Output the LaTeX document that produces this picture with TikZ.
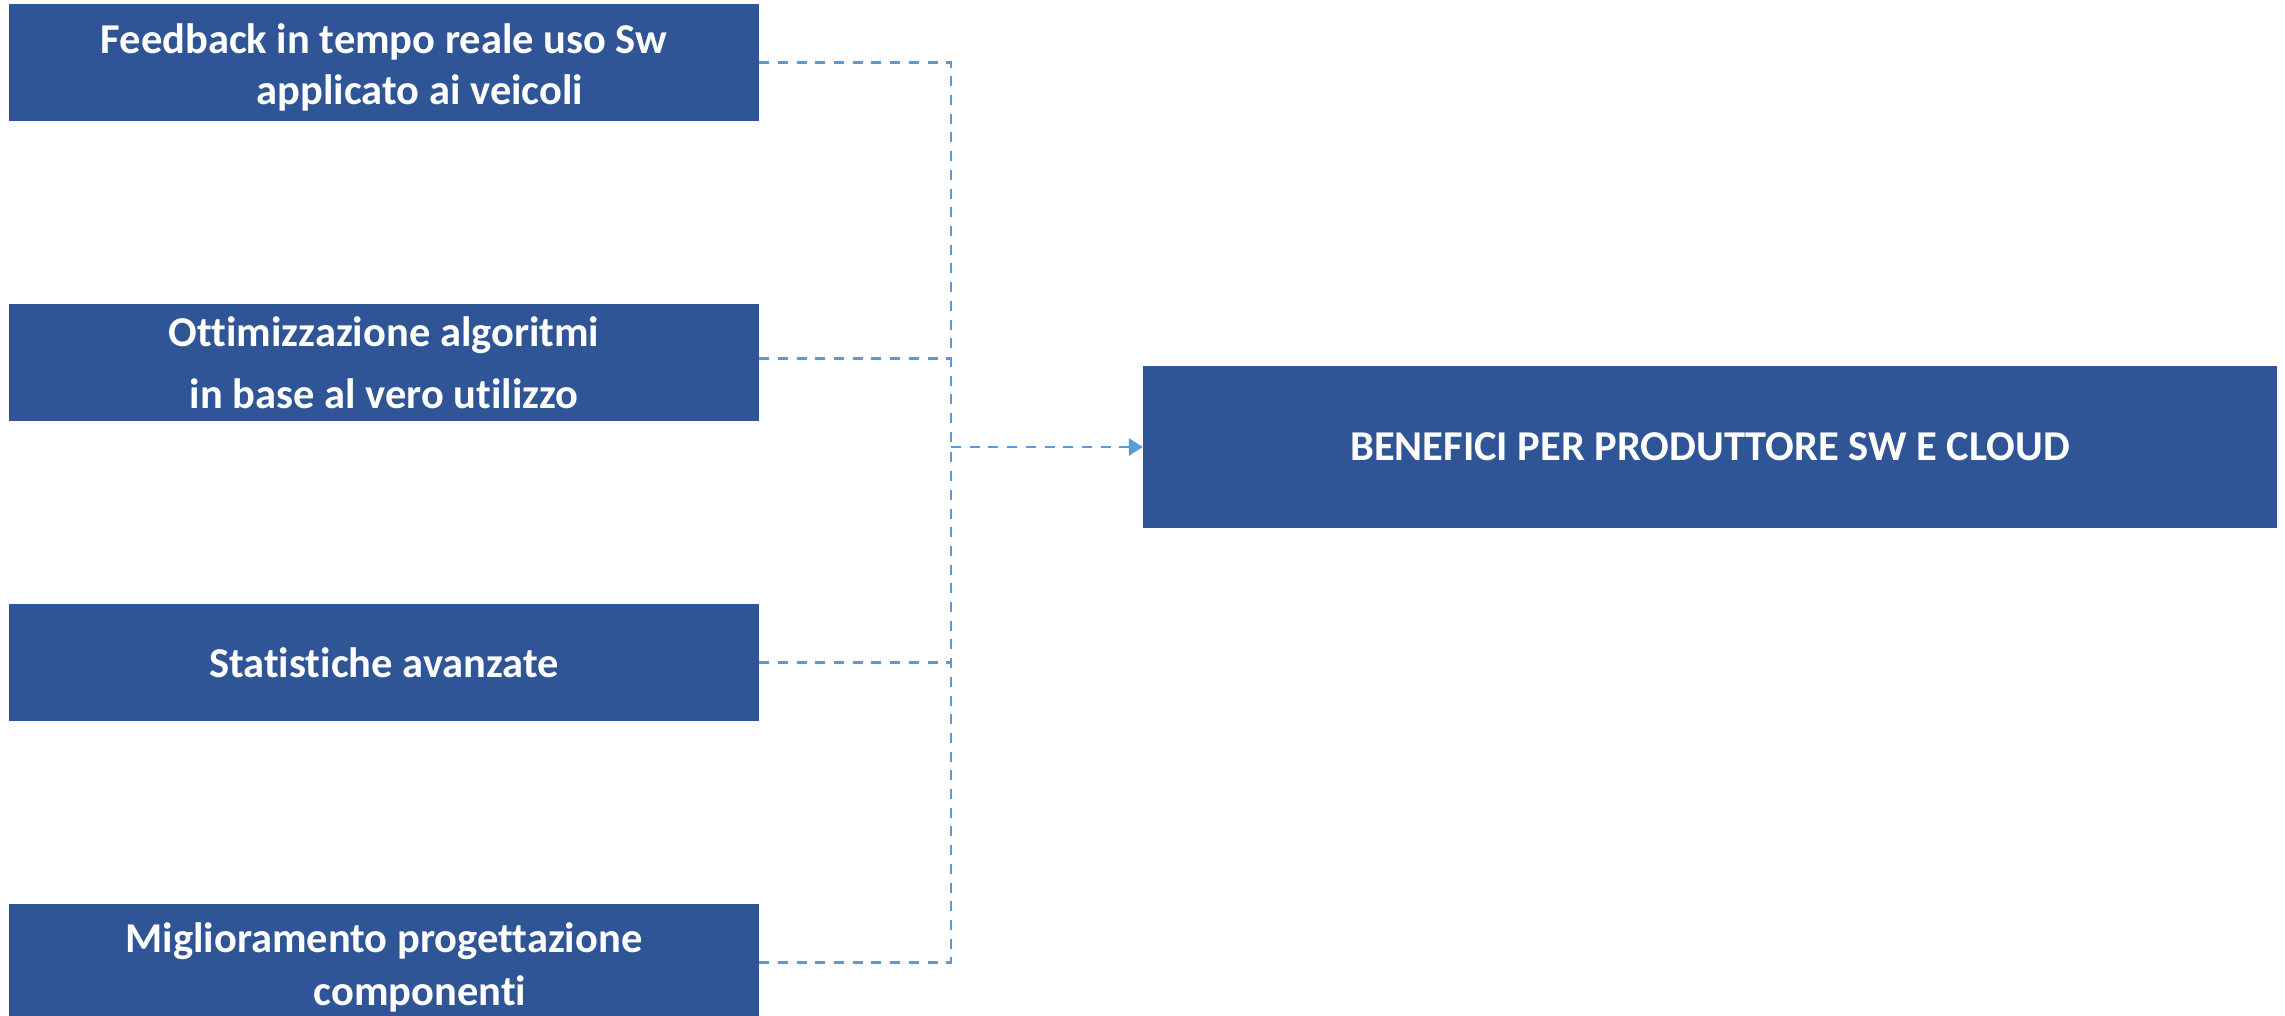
\documentclass[tikz,border=0pt]{standalone}
\usepackage{fontspec}
\setmainfont{Carlito}[Ligatures=NoCommon]
\usetikzlibrary{arrows.meta}
\definecolor{boxblue}{HTML}{2F5597}
\definecolor{linkblue}{HTML}{5B9BD5}
\tikzset{
  leftbox/.style={fill=boxblue, draw=none, minimum width=750pt, minimum height=117pt, inner sep=0pt, text=white, align=center, font=\bfseries\fontsize{42.5}{51}\selectfont},
  rightbox/.style={fill=boxblue, draw=none, minimum width=1134pt, minimum height=162pt, inner sep=0pt, text=white, align=center, font=\bfseries\fontsize{42.5}{50}\selectfont},
  link/.style={draw=linkblue, line width=2.7pt, dash pattern=on 10pt off 8.7pt},
}
\begin{document}
\begin{tikzpicture}[x=1pt, y=-1pt]
\useasboundingbox (0,0) rectangle (2285,1016);
\node[leftbox] (b1) at (384,62.5) {\rule{0pt}{40pt}Feedback in tempo reale uso Sw\\\hspace*{72pt}applicato ai veicoli};
\node[leftbox, font=\bfseries\fontsize{42.5}{62}\selectfont] (b2) at (384,362.5) {Ottimizzazione algoritmi\\in base al vero utilizzo};
\node[leftbox] (b3) at (384,662.5) {Statistiche avanzate};
\node[leftbox, font=\bfseries\fontsize{42.5}{53}\selectfont] (b4) at (384,962.5) {\rule{0pt}{40pt}Miglioramento progettazione\\\hspace*{72pt}componenti};
\node[rightbox] (res) at (1710,447) {BENEFICI PER PRODUTTORE SW E CLOUD};
\coordinate (j) at (951,447);
\draw[link] (b1.east) -| (j);
\draw[link] (b4.east) -| (j);
\draw[link] ([yshift=4pt]b2.east) -- ([yshift=4pt]b2.east -| j);
\draw[link] (b3.east) -- (b3.east -| j);
\draw[link, -{Triangle[length=14pt, width=17pt]}] (j) -- (res.west);
\end{tikzpicture}
\end{document}
